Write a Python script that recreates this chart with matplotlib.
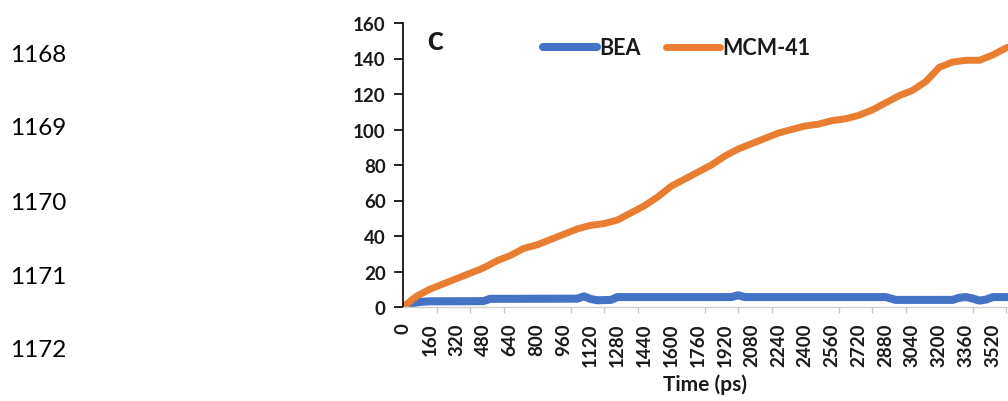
import numpy as np
import matplotlib.pyplot as plt
from matplotlib.ticker import MultipleLocator

# --- data ---
mcm_time = [0, 80, 160, 240, 320, 400, 480, 560, 640, 720, 800, 880, 960,
            1040, 1120, 1200, 1280, 1360, 1440, 1520, 1600, 1680, 1760, 1840,
            1920, 2000, 2080, 2160, 2240, 2320, 2400, 2480, 2560, 2640, 2720,
            2800, 2880, 2960, 3040, 3120, 3200, 3280, 3360, 3440, 3520, 3600, 3680]
mcm_values = [0, 6, 10, 13, 16, 19, 22, 26, 29, 33, 35, 38, 41,
              44, 46, 47, 49, 53, 57, 62, 68, 72, 76, 80,
              85, 89, 92, 95, 98, 100, 102, 103, 105, 106, 108,
              111, 115, 119, 122, 127, 135, 138, 139, 139, 142, 146, 148]

bea_time = [0, 40, 80, 120, 160, 480, 520, 1040, 1080, 1120, 1160, 1240, 1280,
            1960, 2000, 2040, 2880, 2940, 3280, 3320, 3360, 3400, 3440, 3480,
            3520, 3680]
bea_values = [0, 1.5, 2.6, 3.0, 3.2, 3.3, 4.6, 4.7, 6.0, 4.5, 3.8, 4.0, 5.6,
              5.6, 6.6, 5.6, 5.6, 4.0, 4.0, 5.2, 5.6, 4.8, 3.6, 4.2,
              5.6, 5.6]

x_labels = list(range(0, 3680, 160))
y_ticks = list(range(0, 161, 20))
line_numbers = ["1168", "1169", "1170", "1171", "1172"]
line_number_y = [56, 129, 204, 278, 351]

BLUE = "#4472C4"
ORANGE = "#E97E33"
TXT = "#1a1a1a"

plt.rcParams["font.family"] = ["Lato", "DejaVu Sans"]

fig = plt.figure(figsize=(10.08, 4.02), dpi=100)
W, H = 1008, 402

# axes runs off the right edge, like the cropped original
ax = fig.add_axes([403 / W, 94 / H, 620 / W, 284 / H])
ax.plot(bea_time, bea_values, color=BLUE, lw=5.8, label="BEA", solid_capstyle="round")
ax.plot(mcm_time, mcm_values, color=ORANGE, lw=5, label="MCM-41", solid_capstyle="round")

ax.set_xlim(0, 3700)
ax.set_ylim(0, 160)
ax.set_yticks(y_ticks)
ax.set_xticks(x_labels)
ax.set_xticklabels([str(v) for v in x_labels], rotation=90, fontsize=13.5,
                   fontweight="bold", color=TXT)
ax.xaxis.set_minor_locator(MultipleLocator(200))
ax.tick_params(axis="x", which="major", length=0, pad=11)
ax.tick_params(axis="x", which="minor", length=4, width=1, color="#c8c8c8")
ax.tick_params(axis="y", length=6.5, width=1.2, color="black", pad=6,
               labelsize=13.5)
for lab in ax.get_yticklabels():
    lab.set_fontweight("bold")
    lab.set_color(TXT)

for s in ["top", "right"]:
    ax.spines[s].set_visible(False)
ax.spines["left"].set_color("black")
ax.spines["left"].set_linewidth(1.2)
ax.spines["bottom"].set_color("#d0d0d0")
ax.spines["bottom"].set_linewidth(1)

leg = ax.legend(loc="center left", bbox_to_anchor=(543 / W, 1 - 49 / H),
                bbox_transform=fig.transFigure, ncol=2, frameon=False,
                borderpad=0, borderaxespad=0, handlelength=2.5,
                handletextpad=0.1, columnspacing=1.2,
                prop={"weight": "bold", "size": 15.5})
for t in leg.get_texts():
    t.set_color(TXT)

fig.text(427 / W, 1 - 43 / H, "C", fontsize=17, fontweight="heavy",
         color=TXT, va="center", ha="left")
fig.text(705 / W, 1 - 385 / H, "Time (ps)", fontsize=15, fontweight="bold",
         color=TXT, va="center", ha="center")

for lbl, yy in zip(line_numbers, line_number_y):
    fig.text(10 / W, 1 - yy / H, lbl, fontsize=17.5, color="black",
             va="center", ha="left")

fig.savefig("out.png", dpi=100)
